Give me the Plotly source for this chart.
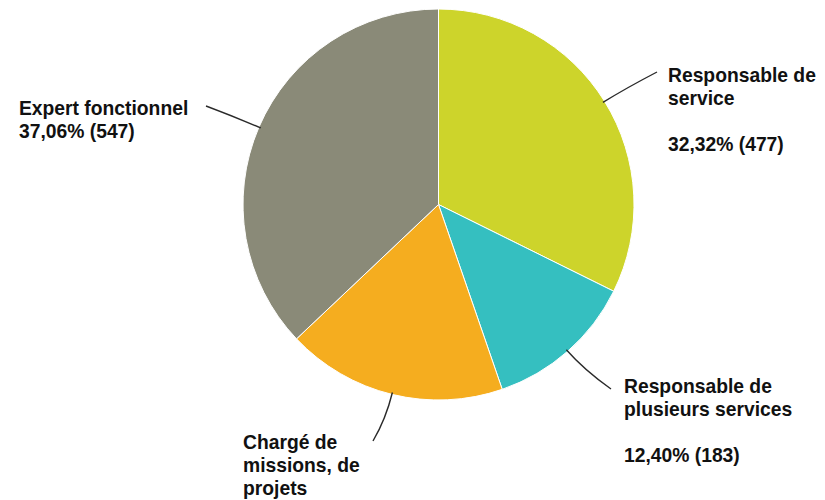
import math
import plotly.graph_objects as go

# ---- data ----
categories = ["Responsable de service", "Responsable de plusieurs services",
              "Chargé de missions, de projets", "Expert fonctionnel"]
values = [477, 183, 269, 547]
label_texts = [
    "Responsable de<br>service<br><br>{pct} ({v})",
    "Responsable de<br>plusieurs services<br><br>{pct} ({v})",
    "Chargé de<br>missions, de<br>projets",
    "Expert fonctionnel<br>{pct} ({v})",
]
colors = ["#CDD42B", "#35BFC0", "#F5AD1F", "#8A8A78"]

# ---- layout constants (pixels in the screenshot) ----
W, H = 825, 500
OFF = 8  # page body margin
CX, CY, R = 438.5, 204.5, 195.5
FS = 19.3
LINE = 23
# (left x, baseline y of first line)
label_pos = [(667, 82), (623, 393), (242, 449), (18, 115)]
leader_end = [(657, 72), (611, 389), (373, 441), (206, 106)]

def px(x, y):
    return (x - OFF) / W, 1 - (y - OFF) / H

fig = go.Figure()
x0, y0 = px(CX - R, CY + R)
x1, y1 = px(CX + R, CY - R)
fig.add_trace(go.Pie(
    labels=categories, values=values, sort=False, direction="clockwise",
    rotation=0, marker=dict(colors=colors, line=dict(color="white", width=1)),
    textinfo="none", hoverinfo="label+value+percent",
    domain=dict(x=[x0, x1], y=[y0, y1]),
    showlegend=False,
))

total = sum(values)
cum = 0
shapes = []
annotations = []
for i, v in enumerate(values):
    mid = (cum + v / 2) / total * 2 * math.pi
    cum += v
    dx, dy = math.sin(mid), -math.cos(mid)
    sx, sy = CX + R * 0.99 * dx, CY + R * 0.99 * dy
    qx, qy = CX + R * 1.13 * dx, CY + R * 1.13 * dy
    ex, ey = leader_end[i]
    a, b = px(sx, sy); c, d = px(qx, qy); e, f = px(ex, ey)
    shapes.append(dict(type="path", xref="paper", yref="paper",
                       path=f"M {a},{b} Q {c},{d} {e},{f}",
                       line=dict(color="#2a2a2a", width=1.4)))
    pct = f"{100 * v / total:.2f}%".replace(".", ",")
    lx, by = label_pos[i]
    for k, line in enumerate(label_texts[i].format(pct=pct, v=v).split("<br>")):
        if not line:
            continue
        cy = by + k * LINE - 0.35 * FS
        lx_p, ly_p = px(lx, cy)
        annotations.append(dict(
            text=line, xref="paper", yref="paper",
            x=lx_p, y=ly_p, xanchor="left", yanchor="middle", align="left",
            showarrow=False, borderpad=0,
            font=dict(family="Liberation Sans, Arial, sans-serif", size=FS,
                      color="#111111", weight="bold"),
        ))

fig.update_layout(
    width=W, height=H, margin=dict(l=0, r=0, t=0, b=0),
    paper_bgcolor="white", plot_bgcolor="white",
    shapes=shapes, annotations=annotations,
)
fig.write_html("out.html")
